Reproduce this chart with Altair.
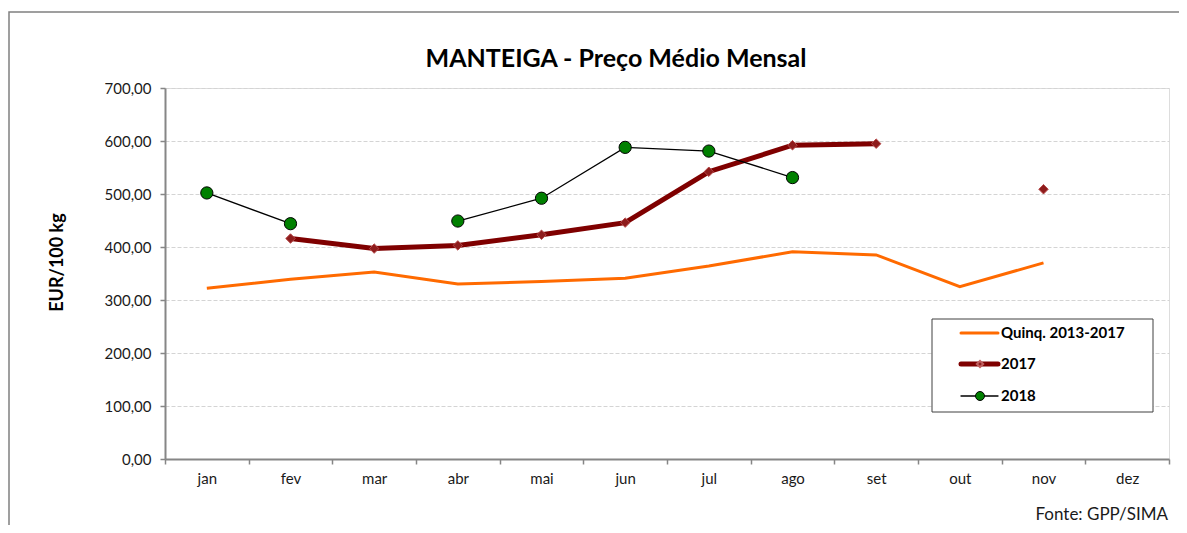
import altair as alt
import pandas as pd

months = ["jan", "fev", "mar", "abr", "mai", "jun", "jul", "ago", "set", "out", "nov", "dez"]
quinq = [322, 339, 353, 330, 335, 341, 364, 391, 385, 325, 370, None]
y2017 = [None, 416, 397, 403, 423, 446, 542, 592, 595, None, 509, None]
y2018 = [502, 444, None, 449, 492, 588, 581, 531, None, None, None, None]
series_names = ["Quinq. 2013-2017", "2017", "2018"]
y_ticks = [0, 100, 200, 300, 400, 500, 600, 700]
title_text = "MANTEIGA - Preço Médio Mensal"
source_text = "Fonte: GPP/SIMA"

FONT = "Lato"
W, H = 1004, 371


def to_long(name, values):
    rows = []
    seg = 0
    prev_none = True
    for m, v in zip(months, values):
        if v is None:
            prev_none = True
            continue
        if prev_none:
            seg += 1
        prev_none = False
        rows.append({"month": m, "value": v, "series": name, "seg": seg})
    return pd.DataFrame(rows)


dq = to_long(series_names[0], quinq)
d17 = to_long(series_names[1], y2017)
d18 = to_long(series_names[2], y2018)

xenc = alt.X(
    "month:N",
    sort=months,
    scale=alt.Scale(type="band", domain=months, paddingInner=0, paddingOuter=0),
    axis=alt.Axis(
        title=None, tickBand="extent", grid=False, labelAngle=0,
        domainColor="#868686", domainWidth=2, tickColor="#868686", tickWidth=1.5,
        tickSize=5, labelFont=FONT, labelFontSize=15, labelColor="#1a1a1a",
        labelPadding=7,
    ),
)
yenc = alt.Y(
    "value:Q",
    scale=alt.Scale(domain=[0, 700], nice=False, zero=True),
    axis=alt.Axis(
        title="EUR/100 kg", values=y_ticks,
        labelExpr="replace(format(datum.value, '.2f'), '.', ',')",
        grid=True, gridColor="#d4d4d4", gridDash=[4, 2], gridWidth=1,
        domainColor="#868686", domainWidth=2, tickColor="#868686", tickWidth=1.5,
        tickSize=5, labelFont=FONT, labelFontSize=15, labelColor="#1a1a1a",
        labelPadding=9, titleFont=FONT, titleFontSize=18, titleFontWeight="bold",
        titleColor="#000000", titlePadding=38, titleY=174,
    ),
)

one = pd.DataFrame({"a": [0]})

border = alt.Chart(one).mark_rect(
    filled=False, stroke="#808080", strokeWidth=1.5
).encode(x=alt.value(-156), x2=alt.value(1040), y=alt.value(-76), y2=alt.value(470))

lq = alt.Chart(dq).mark_line(color="#FF6A00", strokeWidth=3).encode(
    x=xenc, y=yenc, detail="seg:N")
l17 = alt.Chart(d17).mark_line(color="#7F0000", strokeWidth=5).encode(
    x=xenc, y=yenc, detail="seg:N")
p17 = alt.Chart(d17).mark_point(
    shape="diamond", filled=True, size=90, fill="#8E1C1C", stroke="#B54848",
    strokeWidth=1, opacity=1).encode(x=xenc, y=yenc)
l18 = alt.Chart(d18).mark_line(color="#000000", strokeWidth=1.3).encode(
    x=xenc, y=yenc, detail="seg:N")
p18 = alt.Chart(d18).mark_point(
    shape="circle", filled=True, size=150, fill="#008000", stroke="#000000",
    strokeWidth=1, opacity=1).encode(x=xenc, y=yenc)

# legend (inside plot area, pixel placement)
lx0, lx1, ly0, ly1 = 767, 988, 231, 324
row_y = [245, 276, 308]
leg = [alt.Chart(one).mark_rect(
    fill="white", stroke="#404040", strokeWidth=1).encode(
    x=alt.value(lx0), x2=alt.value(lx1), y=alt.value(ly0), y2=alt.value(ly1))]
sample_styles = [("#FF6A00", 3), ("#7F0000", 5), ("#000000", 1.3)]
for name, ry, (col, sw) in zip(series_names, row_y, sample_styles):
    leg.append(alt.Chart(one).mark_rule(
        color=col, strokeWidth=sw, strokeCap="round").encode(
        x=alt.value(796), x2=alt.value(833), y=alt.value(ry)))
    leg.append(alt.Chart(pd.DataFrame({"label": [name]})).mark_text(
        align="left", baseline="middle", font=FONT, fontSize=15,
        fontWeight="bold", color="#000000").encode(
        x=alt.value(836), y=alt.value(ry), text="label:N"))
leg.append(alt.Chart(one).mark_point(
    shape="diamond", filled=True, size=40, fill="#8E1C1C", stroke="#C06060",
    opacity=1).encode(x=alt.value(815), y=alt.value(row_y[1])))
leg.append(alt.Chart(one).mark_point(
    shape="circle", filled=True, size=80, fill="#008000", stroke="#000000",
    strokeWidth=1, opacity=1).encode(x=alt.value(815), y=alt.value(row_y[2])))

title = alt.Chart(pd.DataFrame({"t": [title_text]})).mark_text(
    align="center", baseline="alphabetic", font=FONT, fontSize=25,
    fontWeight="bold", color="#000000"
).encode(x=alt.value(451), y=alt.value(-21), text="t:N")

fonte = alt.Chart(pd.DataFrame({"t": [source_text]})).mark_text(
    align="right", baseline="middle", font=FONT, fontSize=17, color="#1a1a1a"
).encode(x=alt.value(1003), y=alt.value(427), text="t:N")

chart = alt.layer(border, lq, l17, p17, l18, p18, *leg, title, fonte).properties(
    width=W, height=H,
    autosize=alt.AutoSizeParams(type="none"),
    padding={"left": 157, "top": 80, "right": 10, "bottom": 66},
).configure_view(stroke=None).configure(background="white")

chart.save("out.html", embed_options={"renderer": "svg", "actions": False})
